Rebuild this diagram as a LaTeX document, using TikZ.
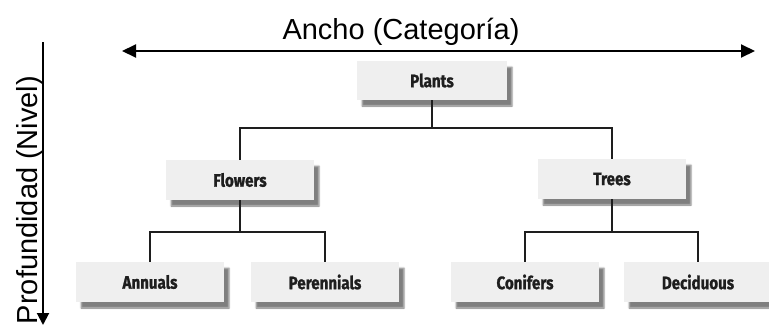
\documentclass[tikz,border=0pt]{standalone}
\usepackage{fontspec}
\setmainfont{Liberation Sans}
\newfontfamily\boxfont[FakeStretch=0.84, FakeBold=1.2]{Fira Sans}
\usetikzlibrary{arrows.meta,shadows.blur}
\definecolor{boxgray}{HTML}{EFEFEF}
\definecolor{inkc}{HTML}{1E1E1E}
\tikzset{
  catbox/.style={fill=boxgray, minimum width=148pt, minimum height=40pt, inner sep=0pt,
    font=\boxfont\bfseries\fontsize{18}{20}\selectfont, text=inkc,
    blur shadow={shadow xshift=5pt, shadow yshift=-6pt, shadow blur steps=4, shadow blur radius=1.5pt, shadow opacity=50}},
  link/.style={draw=inkc, line width=2.7pt},
  axis/.style={draw=black, line width=2pt, -{Triangle[length=14pt,width=13pt]}},
  axislbl/.style={font=\fontsize{29}{33}\selectfont, text=black, inner sep=0pt}
}
\begin{document}
\begin{tikzpicture}[x=1pt,y=-1pt]
\useasboundingbox (0,0) rectangle (769,327);
% axes
\coordinate (hl) at (437,51);
\coordinate (hL) at (122,51);
\coordinate (hR) at (755,51);
\draw[axis] (hl) -- (hL);
\draw[axis] (hl) -- (hR);
\node[axislbl, anchor=base] (ancho) at (401,39) {Ancho (Categoría)};
\coordinate (vT) at (43,42);
\coordinate (vB) at (43,325);
\draw[axis, -{Triangle[length=12pt,width=12pt]}] (vT) -- (vB);
\node[axislbl, rotate=90, anchor=base] (prof) at (37,200) {Profundidad (Nivel)};
% boxes
\node[catbox, minimum width=150pt, minimum height=39pt] (plants) at (432,80.5) {Plants};
\node[catbox] (flowers) at (240,180) {Flowers};
\node[catbox] (trees) at (612,179) {Trees};
\node[catbox] (annuals) at (150,282) {Annuals};
\node[catbox] (perennials) at (325,282) {Perennials};
\node[catbox] (conifers) at (525,282) {Conifers};
\node[catbox] (deciduous) at (698,282) {Deciduous};
% connectors
\coordinate (b1) at (432,128);
\coordinate (b2) at (240,232);
\coordinate (b3) at (612,232);
\draw[link] (plants.south) -- (b1);
\draw[link] (flowers.north) |- (b1) -| (trees.north);
\draw[link] (flowers.south) -- (b2);
\draw[link] (annuals.north) |- (b2) -| (perennials.north);
\draw[link] (trees.south) -- (b3);
\draw[link] (conifers.north) |- (b3) -| (deciduous.north);
\end{tikzpicture}
\end{document}
